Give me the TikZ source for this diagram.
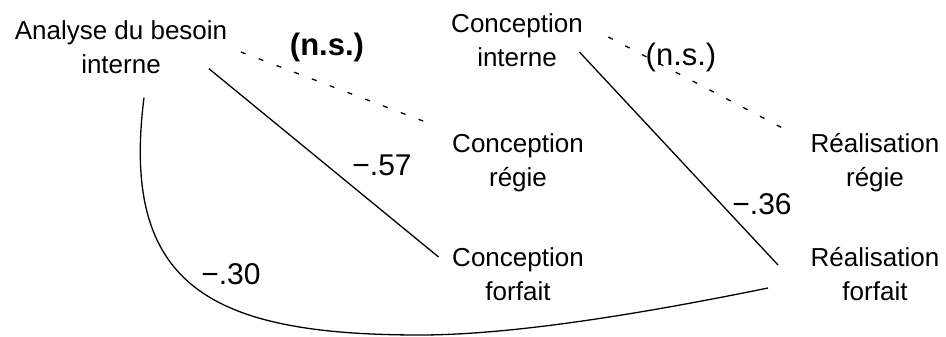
\documentclass[tikz,border=0pt]{standalone}
\usepackage{fontspec}
\setmainfont{Liberation Sans}
\begin{document}
\begin{tikzpicture}[x=1pt, y=-1pt, line width=1.3pt]
    \tikzstyle{var}=[align=center, inner sep=0pt, font=\fontsize{26}{34}\selectfont]
    \tikzstyle{coef}=[inner sep=0pt, font=\fontsize{30}{34}\selectfont]
    \tikzstyle{ns}=[inner sep=0pt, font=\fontsize{31}{34}\selectfont]
    \tikzstyle{nsline}=[dash pattern=on 5pt off 14pt]
    \useasboundingbox (0,0) rectangle (946,337);

    \node[var] (analyse) at (121,50)  {\strut Analyse du besoin\\\strut interne};
    \node[var] (concInt) at (517,43)  {\strut Conception\\\strut interne};
    \node[var] (concReg) at (518,163) {\strut Conception\\\strut régie};
    \node[var] (concFor) at (518,277) {\strut Conception\\\strut forfait};
    \node[var] (realReg) at (875,163) {\strut Réalisation\\\strut régie};
    \node[var] (realFor) at (875,277) {\strut Réalisation\\\strut forfait};
    \coordinate (low) at (420,335);

    \draw[nsline] ([shift={(13,2)}]analyse.east)     -- ([shift={(-25,-6)}]concReg.north west);
    \draw         ([shift={(-19,-16)}]analyse.south east) -- ([shift={(-13,-20)}]concFor.west);
    \draw         ([shift={(23,13)}]analyse.south) .. controls (120,287) and (212,335) .. (low)
                                                   .. controls (520,335) and (660,310) .. ([shift={(-42,11)}]realFor.west);
    \draw[nsline] ([shift={(25,-6)}]concInt.east)    -- ([shift={(-25,1)}]realReg.north west);
    \draw         ([shift={(-4,9)}]concInt.east)     -- ([shift={(-32,-12)}]realFor.west);

    \node[ns]   (nsA) at (327,47)  {\textbf{(n.s.)}};
    \node[ns]   (nsB) at (681,57)  {(n.s.)};
    \node[coef] (cA)  at (382,165) {−.57};
    \node[coef] (cB)  at (762,204) {−.36};
    \node[coef] (cC)  at (231,274) {−.30};

\end{tikzpicture}
\end{document}
